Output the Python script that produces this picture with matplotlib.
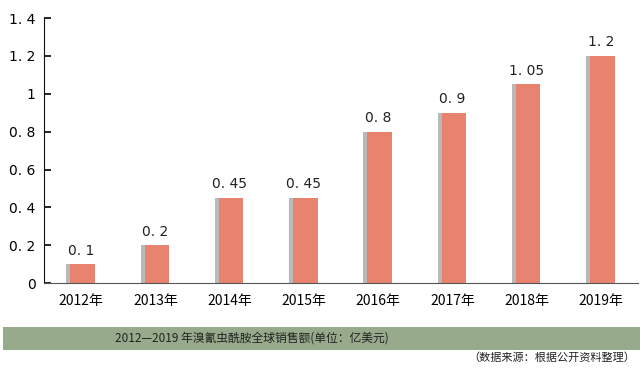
import numpy as np
import matplotlib.pyplot as plt
from matplotlib.patches import Rectangle

plt.rcParams['font.family'] = ['Noto Sans CJK SC', 'DejaVu Sans']

years = ["2012年", "2013年", "2014年", "2015年", "2016年", "2017年", "2018年", "2019年"]
sales = [0.1, 0.2, 0.45, 0.45, 0.8, 0.9, 1.05, 1.2]
value_labels = ["0. 1", "0. 2", "0. 45", "0. 45", "0. 8", "0. 9", "1. 05", "1. 2"]
yticks = [0, 0.2, 0.4, 0.6, 0.8, 1.0, 1.2, 1.4]
ytick_labels = ["0", "0. 2", "0. 4", "0. 6", "0. 8", "1", "1. 2", "1. 4"]

fig = plt.figure(figsize=(6.44, 3.70), dpi=100)
ax = fig.add_axes([0.0683, 0.235, 0.9224, 0.716])

x = np.arange(len(years))
# shadow behind bars
ax.bar(x - 0.01, sales, width=0.38, color="#a8a8a8", alpha=0.8, zorder=1)
ax.bar(x + 0.02, sales, width=0.33, color="#e8836f", zorder=2)

for xi, v, lab in zip(x, sales, value_labels):
    ax.text(xi, v + 0.035, lab, ha="center", va="bottom", fontsize=10,
            family="DejaVu Sans", color="#222222")

ax.set_xlim(-0.5, 7.5)
ax.set_ylim(0, 1.4)
ax.set_xticks(x)
ax.set_xticklabels(years, fontsize=10)
ax.set_yticks(yticks)
ax.set_yticklabels(ytick_labels, fontsize=10, family="DejaVu Sans")
ax.tick_params(axis="y", direction="in", length=5, width=1.2, pad=6)
ax.tick_params(axis="x", length=0, pad=8)
ax.spines["top"].set_visible(False)
ax.spines["right"].set_visible(False)
ax.spines["left"].set_color("#111111")
ax.spines["bottom"].set_color("#555555")

# title band
band = Rectangle((3 / 644, (370 - 350) / 370), 637 / 644, 23 / 370,
                 transform=fig.transFigure, facecolor="#97ab8c", edgecolor="none")
fig.patches.append(band)
fig.text(252 / 644, (370 - 338) / 370, "2012—2019 年溴氰虫酰胺全球销售额(单位：亿美元)",
         ha="center", va="center", fontsize=8.5, color="#222222")
fig.text(635 / 644, (370 - 358) / 370, "（数据来源：根据公开资料整理）",
         ha="right", va="center", fontsize=8, color="#222222")

fig.savefig("out.png", dpi=100)
